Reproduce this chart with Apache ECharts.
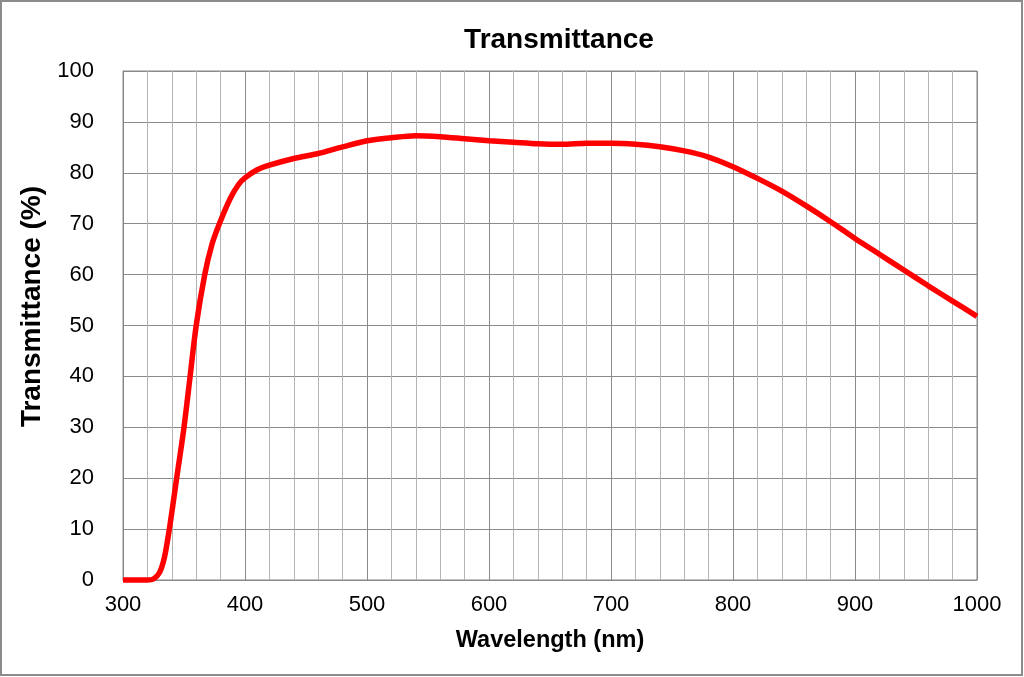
<!DOCTYPE html>
<html>
<head>
<meta charset="utf-8">
<script src="https://cdn.jsdelivr.net/npm/echarts@6/dist/echarts.min.js"></script>
<style>
  html, body { margin: 0; padding: 0; background: #fff; }
  #chart { width: 1024px; height: 677px; }
</style>
</head>
<body>
<div id="chart"></div>
<script>
// wavelength (nm) and transmittance (%)
var wavelength = [300, 310, 320, 325, 330, 334, 338, 344, 350, 355, 360, 367, 373, 379, 388, 395, 400,
  410, 420, 440, 460, 480, 500, 520, 540, 560, 580, 600, 620, 640, 660, 680, 700, 720, 740,
  760, 780, 800, 820, 840, 860, 880, 900, 920, 940, 960, 980, 1000];
var transmittance = [0, 0, 0, 0.2, 1.5, 4.5, 10, 20, 30, 40, 50, 60, 66, 70, 75, 77.8, 79,
  80.6, 81.5, 82.8, 83.8, 85.1, 86.3, 86.9, 87.3, 87.1, 86.7, 86.3, 86.0, 85.7, 85.6, 85.8, 85.8, 85.6, 85.1,
  84.3, 83.1, 81.2, 78.9, 76.4, 73.5, 70.4, 67.1, 64.0, 60.9, 57.8, 54.8, 51.8];

var points = wavelength.map(function (w, i) { return [w, transmittance[i]]; });

var font = 'Liberation Sans, Arial, sans-serif';

var chart = echarts.init(document.getElementById('chart'));
chart.setOption({
  animation: false,
  title: {
    text: 'Transmittance',
    left: 554,
    textAlign: 'center',
    top: 21,
    textStyle: { fontFamily: font, fontSize: 28, fontWeight: 'bold', color: '#000' }
  },
  graphic: [{
    type: 'rect',
    shape: { x: 1, y: 1, width: 1021, height: 674 },
    style: { fill: null, stroke: '#8c8c8c', lineWidth: 2 },
    silent: true
  }],
  grid: {
    left: 123, right: 47, top: 71, bottom: 97,
    show: true, borderColor: '#888', borderWidth: 1
  },
  xAxis: {
    type: 'value',
    min: 300, max: 1000, interval: 100,
    name: 'Wavelength (nm)',
    nameLocation: 'middle',
    nameGap: 49,
    nameTextStyle: { fontFamily: font, fontSize: 23.5, fontWeight: 'bold', color: '#000' },
    axisLine: { show: true, lineStyle: { color: '#888' } },
    axisTick: { show: false },
    axisLabel: { fontFamily: font, fontSize: 22, color: '#000', margin: 14,
      formatter: function (v) { return String(v); } },
    splitLine: { show: true, lineStyle: { color: '#8a8a8a', width: 1 } },
    minorTick: { show: false, splitNumber: 5 },
    minorSplitLine: { show: true, lineStyle: { color: '#b4b4b4', width: 1 } }
  },
  yAxis: {
    type: 'value',
    min: 0, max: 100, interval: 10,
    name: 'Transmittance (%)',
    nameLocation: 'middle',
    nameRotate: 90,
    nameGap: 72,
    nameTextStyle: { fontFamily: font, fontSize: 28, fontWeight: 'bold', color: '#000',
      padding: [0, 0, 0, 38] },
    axisLine: { show: true, lineStyle: { color: '#888' } },
    axisTick: { show: false },
    axisLabel: { fontFamily: font, fontSize: 22, color: '#000', margin: 29 },
    splitLine: { show: true, lineStyle: { color: '#8a8a8a', width: 1 } }
  },
  series: [{
    type: 'line',
    data: points,
    smooth: 0.3,
    showSymbol: false,
    lineStyle: { color: '#ff0000', width: 5.5 },
    clip: false
  }]
});
</script>
</body>
</html>
